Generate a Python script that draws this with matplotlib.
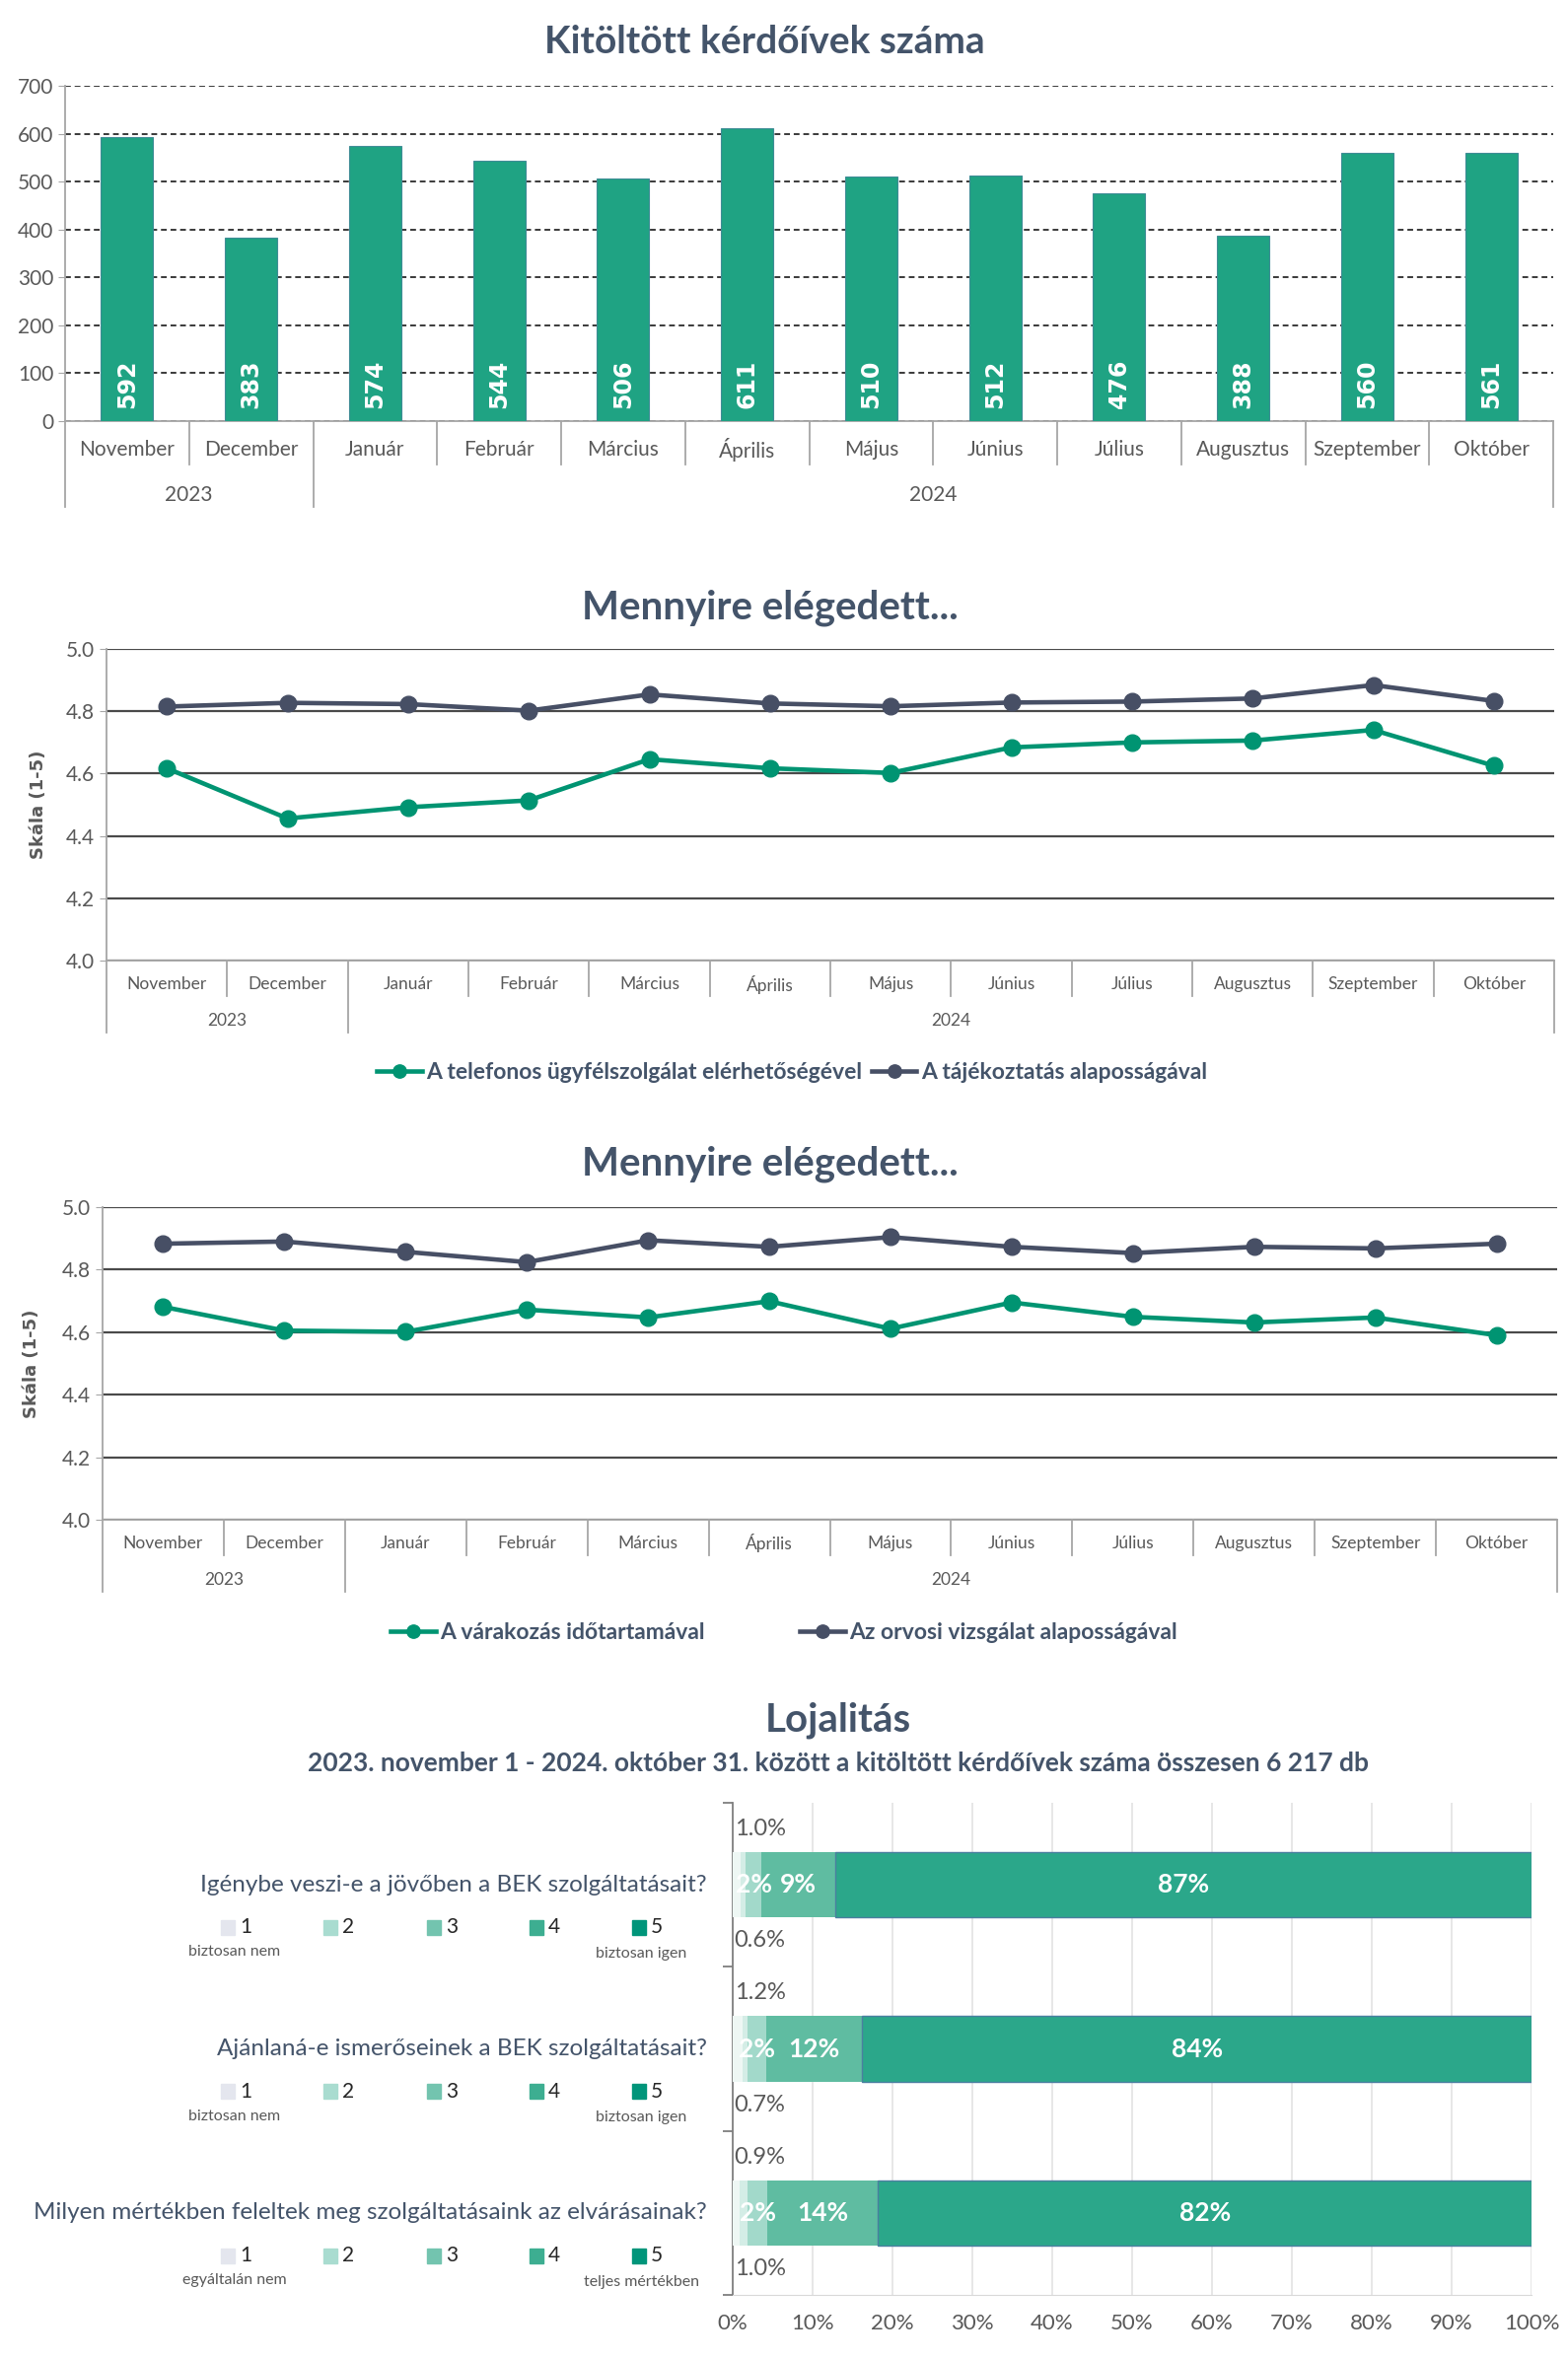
import matplotlib
matplotlib.use("Agg")
import matplotlib.pyplot as plt
import matplotlib.transforms as mtransforms
from matplotlib.patches import Rectangle

plt.rcParams['font.family'] = ['Lato', 'DejaVu Sans']

months = ['November', 'December', 'Január', 'Február', 'Március', 'Április',
          'Május', 'Június', 'Július', 'Augusztus', 'Szeptember', 'Október']
years = ['2023', '2024']
year_span = [(0, 1), (2, 11)]

counts = [592, 383, 574, 544, 506, 611, 510, 512, 476, 388, 560, 561]

phone = [4.617, 4.456, 4.492, 4.514, 4.646, 4.617, 4.602, 4.684, 4.700, 4.706, 4.740, 4.625]
info = [4.815, 4.827, 4.823, 4.802, 4.854, 4.825, 4.816, 4.828, 4.831, 4.841, 4.884, 4.833]
waiting = [4.681, 4.605, 4.601, 4.672, 4.647, 4.699, 4.611, 4.695, 4.649, 4.631, 4.647, 4.590]
exam = [4.883, 4.890, 4.857, 4.824, 4.894, 4.873, 4.904, 4.873, 4.853, 4.873, 4.868, 4.883]

questions = ['Igénybe veszi-e a jövőben a BEK szolgáltatásait?',
             'Ajánlaná-e ismerőseinek a BEK szolgáltatásait?',
             'Milyen mértékben feleltek meg szolgáltatásaink az elvárásainak?']
scale_labels = ['1', '2', '3', '4', '5']
low_ends = ['biztosan nem', 'biztosan nem', 'egyáltalán nem']
high_ends = ['biztosan igen', 'biztosan igen', 'teljes mértékben']
loyal_1 = [1.0, 1.2, 0.9]
loyal_2 = [0.6, 0.7, 1.0]
loyal_3 = [2.0, 2.3, 2.4]
loyal_4 = [9.2, 12.0, 13.9]
loyal_5 = [87.2, 83.8, 81.8]

TITLE = '#44546A'
TEXT = '#595959'
AXIS = '#A6A6A6'
BAR = '#1FA383'
GREEN = '#009472'
GRAY = '#474F65'
seg_colors = ['#EEF7F4', '#D4EDE6', '#A2D9CA', '#5FBCA1', '#2BA78A']
legend_colors = ['#E4E6EE', '#A9DCD0', '#73C4AF', '#3DAE91', '#00957A']

W, H = 1590, 2393
fig = plt.figure(figsize=(W / 100, H / 100), dpi=100)


def box(l, t, r, b):
    return [l / W, 1 - b / H, (r - l) / W, (b - t) / H]


def fy(y):
    return 1 - y / H


def category_axis(ax, px_h, month_px, year_px, short_px, long_px, fs_m, fs_y):
    tr = mtransforms.blended_transform_factory(ax.transData, ax.transAxes)
    for i, m in enumerate(months):
        ax.text(i, -month_px / px_h, m, transform=tr, ha='center', va='center',
                fontsize=fs_m, color=TEXT)
    edges = set()
    for (a, b), yr in zip(year_span, years):
        ax.text((a + b) / 2, -year_px / px_h, yr, transform=tr, ha='center',
                va='center', fontsize=fs_y, color=TEXT)
        edges.add(a - 0.5)
        edges.add(b + 0.5)
    for i in range(len(months) + 1):
        x = i - 0.5
        depth = long_px if x in edges else short_px
        ax.plot([x, x], [0, -depth / px_h], transform=tr, color=AXIS, lw=1.3,
                clip_on=False)
    ax.set_xticks([])
    ax.set_xlim(-0.5, len(months) - 0.5)


# --- bar chart: number of questionnaires
ax1 = fig.add_axes(box(66, 87, 1575, 427))
x = list(range(len(months)))
ax1.bar(x, counts, width=0.42, color=BAR, edgecolor='#3E8C95', linewidth=0.8, zorder=3)
for xi, v in zip(x, counts):
    ax1.text(xi, 26, str(v), rotation=90, ha='center', va='bottom', color='white',
             fontsize=17, fontweight='bold', family='DejaVu Sans', zorder=4)
ax1.set_ylim(0, 700)
ax1.set_yticks(range(0, 701, 100))
ax1.yaxis.grid(True, color='#3A3A3A', linestyle=(0, (3, 2)), linewidth=1.4, zorder=0)
ax1.tick_params(axis='y', colors=AXIS, labelcolor=TEXT, labelsize=15, length=5)
for s in ['top', 'right']:
    ax1.spines[s].set_visible(False)
for s in ['left', 'bottom']:
    ax1.spines[s].set_color(AXIS)
    ax1.spines[s].set_linewidth(1.3)
category_axis(ax1, 340, 29, 75, 44, 87, 15, 15)
fig.text(775 / W, fy(43), 'Kitöltött kérdőívek száma', ha='center', va='center',
         fontsize=28, fontweight='bold', color=TITLE)


def line_chart(rect, px_h, s1, s2, n1, n2, title_y, title, legend_x, legend_y,
               colsp, label_x):
    ax = fig.add_axes(box(*rect))
    xs = list(range(len(months)))
    ax.plot(xs, s1, color=GREEN, lw=3.3, marker='o', ms=12, label=n1, zorder=3)
    ax.plot(xs, s2, color=GRAY, lw=3.3, marker='o', ms=12, label=n2, zorder=3)
    ax.set_ylim(4.0, 5.0)
    ax.set_yticks([4.0, 4.2, 4.4, 4.6, 4.8, 5.0])
    ax.set_yticklabels([f'{v:.1f}' for v in [4.0, 4.2, 4.4, 4.6, 4.8, 5.0]])
    ax.yaxis.grid(True, color='#4A4A4A', linewidth=1.6, zorder=0)
    ax.tick_params(axis='y', colors=AXIS, labelcolor=TEXT, labelsize=15, length=5)
    for s in ['top', 'right']:
        ax.spines[s].set_visible(False)
    for s in ['left', 'bottom']:
        ax.spines[s].set_color(AXIS)
        ax.spines[s].set_linewidth(1.3)
    ax.set_ylabel('Skála (1-5)', family='DejaVu Sans', fontweight='bold',
                  fontsize=13, color=TEXT)
    ax.yaxis.set_label_coords((label_x - rect[0]) / (rect[2] - rect[0]), 0.5)
    category_axis(ax, px_h, 24, 61, 36, 73, 12.5, 12.5)
    fig.text(781 / W, fy(title_y), title, ha='center', va='center',
             fontsize=29, fontweight='bold', color=TITLE)
    ax.legend(ncol=2, loc='center', bbox_to_anchor=(legend_x / W, fy(legend_y)),
              bbox_transform=fig.transFigure, frameon=False,
              prop={'weight': 'bold', 'size': 16.5}, labelcolor=TITLE,
              handlelength=2.0, handletextpad=0.2, columnspacing=colsp,
              markerscale=0.8)
    return ax


line_chart((108, 658, 1576, 974), 316, phone, info,
           'A telefonos ügyfélszolgálat elérhetőségével',
           'A tájékoztatás alaposságával', 616, 'Mennyire elégedett...', 803, 1088,
           0.4, 48)
line_chart((104, 1224, 1579, 1541), 317, waiting, exam,
           'A várakozás időtartamával',
           'Az orvosi vizsgálat alaposságával', 1180, 'Mennyire elégedett...', 795, 1656,
           4.2, 41)

# --- loyalty stacked bars
ax4 = fig.add_axes(box(743, 1828, 1553, 2327))
rows = list(range(len(questions)))
segs = [loyal_1, loyal_2, loyal_3, loyal_4, loyal_5]
left = [0.0] * len(rows)
for k, vals in enumerate(segs):
    ax4.barh(rows, vals, left=left, height=0.40, color=seg_colors[k],
             edgecolor='#4A7FA0' if k == 4 else 'none', linewidth=1.0, zorder=3)
    if k >= 2:
        for r in rows:
            ax4.text(left[r] + vals[r] / 2, r, f'{vals[r]:.0f}%', ha='center',
                     va='center', color='white', fontsize=19, fontweight='bold', zorder=4)
    left = [a + b for a, b in zip(left, vals)]
for r in rows:
    ax4.text(0.2, r - 0.34, f'{loyal_1[r]:.1f}%', ha='left', va='center',
             fontsize=17, color=TEXT)
    ax4.text(0.2, r + 0.34, f'{loyal_2[r]:.1f}%', ha='left', va='center',
             fontsize=17, color=TEXT)
ax4.set_xlim(0, 100)
ax4.set_ylim(len(rows) - 0.5, -0.5)
ax4.set_xticks(range(0, 101, 10))
ax4.set_xticklabels([f'{v}%' for v in range(0, 101, 10)])
ax4.set_yticks([r - 0.5 for r in rows] + [len(rows) - 0.5])
ax4.set_yticklabels([])
ax4.xaxis.grid(True, color='#E3E3E3', linewidth=1.2, zorder=0)
ax4.tick_params(axis='x', length=0, labelsize=16, labelcolor=TEXT, pad=14)
ax4.tick_params(axis='y', length=7, color='#7F7F7F', width=1.3)
for s in ['top', 'right']:
    ax4.spines[s].set_visible(False)
ax4.spines['left'].set_color('#7F7F7F')
ax4.spines['left'].set_linewidth(1.3)
ax4.spines['bottom'].set_color('#D9D9D9')

tq = mtransforms.blended_transform_factory(fig.transFigure, ax4.transData)
sq_x = [224, 328, 433, 537, 641]
for r, q in enumerate(questions):
    ax4.text(717 / W, r, q, transform=tq, ha='right', va='center', fontsize=17.5,
             color=TITLE, clip_on=False)
    for k, lab in enumerate(scale_labels):
        ax4.add_patch(Rectangle((sq_x[k] / W, r + 0.26 - 0.045), 14 / W, 0.09,
                                transform=tq, color=legend_colors[k], clip_on=False))
        ax4.text((sq_x[k] + 19) / W, r + 0.26, lab, transform=tq, ha='left',
                 va='center', fontsize=15, color='#262626', clip_on=False)
    ax4.text(238 / W, r + 0.41, low_ends[r], transform=tq, ha='center', va='center',
             fontsize=11.5, color=TEXT, clip_on=False)
    ax4.text(650 / W, r + 0.42, high_ends[r], transform=tq, ha='center', va='center',
             fontsize=11.5, color=TEXT, clip_on=False)

fig.text(850 / W, fy(1744), 'Lojalitás', ha='center', va='center', fontsize=29,
         fontweight='bold', color=TITLE)
fig.text(850 / W, fy(1788),
         '2023. november 1 - 2024. október 31. között a kitöltött kérdőívek száma összesen 6 217 db',
         ha='center', va='center', fontsize=19, fontweight='bold', color=TITLE)

fig.savefig('out.png', dpi=100, facecolor='white')
